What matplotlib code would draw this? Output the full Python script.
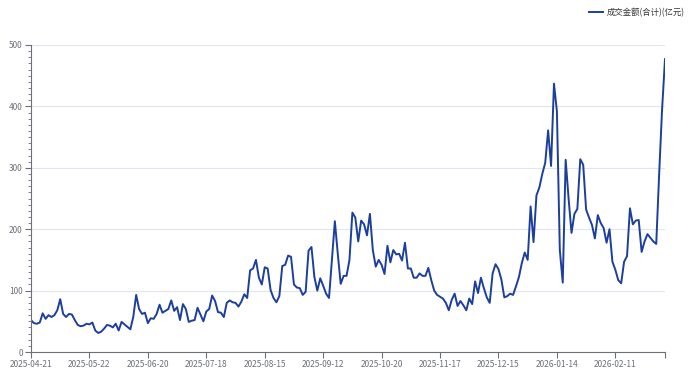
import matplotlib
matplotlib.use("Agg")
import matplotlib.pyplot as plt
from matplotlib.ticker import MultipleLocator

plt.rcParams['font.family'] = ['Noto Sans CJK SC', 'DejaVu Sans']

# data: daily turnover (亿元), one value per trading day
series_name = "成交金额(合计)(亿元)"
tick_labels = ["2025-04-21", "2025-05-22", "2025-06-20", "2025-07-18", "2025-08-15",
               "2025-09-12", "2025-10-20", "2025-11-17", "2025-12-15", "2026-01-14",
               "2026-02-11"]
label_step = 20

values = [
    52, 47, 46, 48, 63, 54, 60, 57, 60, 68,
    86, 62, 57, 62, 61, 52, 44, 42, 43, 46,
    45, 48, 35, 31, 33, 38, 44, 43, 40, 46,
    35, 49, 45, 41, 37, 57, 93, 70, 62, 64,
    47, 55, 54, 62, 77, 64, 67, 70, 84, 67,
    73, 52, 78, 70, 49, 51, 52, 72, 61, 50,
    66, 70, 92, 83, 65, 64, 57, 80, 84, 81,
    80, 74, 82, 94, 88, 133, 136, 150, 121, 110,
    138, 136, 101, 88, 81, 91, 140, 142, 157, 155,
    110, 105, 104, 93, 98, 165, 171, 122, 100, 120,
    108, 95, 88, 150, 213, 160, 111, 124, 124, 150,
    227, 219, 180, 214, 208, 190, 225, 166, 139, 150,
    142, 127, 173, 146, 166, 159, 160, 149, 178, 136,
    136, 121, 121, 128, 124, 124, 137, 117, 100, 93,
    90, 87, 80, 68, 85, 95, 75, 83, 76, 68,
    87, 78, 115, 96, 121, 104, 89, 80, 128, 143,
    135, 118, 89, 91, 95, 93, 107, 122, 145, 162,
    150, 237, 179, 255, 268, 290, 308, 361, 303, 437,
    392, 166, 113, 313, 250, 194, 225, 233, 314, 305,
    232, 219, 207, 185, 223, 210, 202, 178, 200, 147,
    134, 117, 112, 147, 156, 234, 208, 214, 215, 163,
    180, 192, 186, 180, 176, 290, 395, 477,
]

x = list(range(len(values)))
tick_pos = [i * label_step for i in range(len(tick_labels))]

axis_col = "#6e7079"
grid_col = "#e0e6f1"
line_col = "#1c3f9e"

fig = plt.figure(figsize=(6.92, 3.72), dpi=100)
ax = fig.add_axes([31 / 692, 20 / 372, 634 / 692, 307 / 372])

ax.plot(x, values, color=line_col, linewidth=1.4, label=series_name)

ax.set_xlim(0, len(values) - 1)
ax.set_ylim(0, 500)
ax.set_xticks(tick_pos + [len(values) - 1])
ax.set_xticklabels(tick_labels + [""])
ax.yaxis.set_major_locator(MultipleLocator(100))
ax.yaxis.set_minor_locator(MultipleLocator(10))

ax.grid(axis='y', color=grid_col, linewidth=0.8)
ax.set_axisbelow(True)
for side in ['top', 'right']:
    ax.spines[side].set_visible(False)
for side in ['left', 'bottom']:
    ax.spines[side].set_color(axis_col)
    ax.spines[side].set_linewidth(0.8)

ax.tick_params(axis='x', colors=axis_col, labelsize=6, length=4, width=0.8, pad=2)
ax.tick_params(axis='y', which='major', colors=axis_col, labelsize=6, length=4, width=0.8, pad=2)
ax.tick_params(axis='y', which='minor', colors=axis_col, length=2, width=0.6)

leg = fig.legend(loc='upper right', bbox_to_anchor=(0.998, 0.995), frameon=False,
                 fontsize=6, handlelength=1.6, handletextpad=0.5, borderaxespad=0.3)
for t in leg.get_texts():
    t.set_color("#333333")

fig.savefig("out.png", dpi=100)
